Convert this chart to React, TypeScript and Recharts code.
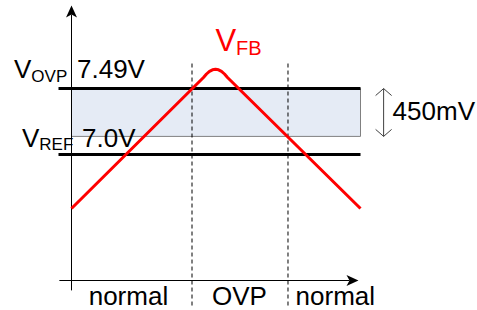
import React from 'react';
import { ComposedChart, Line, XAxis, YAxis, ReferenceLine, ReferenceArea, ReferenceDot } from 'recharts';

const FONT = "Arial, 'Liberation Sans', Helvetica, sans-serif";

// V_FB waveform (arbitrary time / level units)
const vfbTime = [0, 45.67, 46.71, 47.75, 48.79, 49.83, 50.87, 51.9, 52.94, 53.98, 100];
const vfbLevel = [26.2, 73.82, 75.09, 76.07, 76.62, 76.8, 76.62, 76.07, 75.09, 73.82, 26.2];

// threshold levels
const ovpLevel = 69.8;
const refLevel = 45.8;
const bandLow = 52.4;
const hystLabel = '450mV';
const ovpText = '7.49V';
const refText = '7.0V';

// region boundaries and labels
const boundaries = [41.7, 74.91];
const regionCenters = [19.7, 58.1, 91.3];
const regionLabels = ['normal', 'OVP', 'normal'];

const data = vfbTime.map((t, i) => ({ t, v: vfbLevel[i] }));

const ArrowShape = (props: any) => {
  const { x1, y1, x2, y2 } = props;
  const dx = x2 - x1;
  const dy = y2 - y1;
  const len = Math.hypot(dx, dy) || 1;
  const ux = dx / len;
  const uy = dy / len;
  const nx = -uy;
  const ny = ux;
  const L = 12;
  const W = 5.5;
  const N = 3;
  const bx = x2 - ux * L;
  const by = y2 - uy * L;
  const mx = x2 - ux * (L - N);
  const my = y2 - uy * (L - N);
  return (
    <g>
      <line x1={x1} y1={y1} x2={mx} y2={my} stroke="#000" strokeWidth={1} />
      <polygon
        points={`${x2},${y2} ${bx + nx * W},${by + ny * W} ${mx},${my} ${bx - nx * W},${by - ny * W}`}
        fill="#000"
      />
    </g>
  );
};

const DoubleArrowShape = (props: any) => {
  const { x1, y1, x2, y2 } = props;
  const top = Math.min(y1, y2);
  const bot = Math.max(y1, y2);
  const x = x1;
  const w = 8;
  const h = 7;
  const c = '#404040';
  return (
    <g fill="none" stroke={c} strokeWidth={1}>
      <line x1={x} y1={top} x2={x} y2={bot} />
      <polyline points={`${x - w},${top + h} ${x},${top} ${x + w},${top + h}`} />
      <polyline points={`${x - w},${bot - h} ${x},${bot} ${x + w},${bot - h}`} />
    </g>
  );
};

const makeVLabel = (sub: string, value: string, vOffX: number, vOffY: number, valOffX: number, subDy: number) =>
  (props: any) => {
    const vb = props.viewBox || { x: 0, y: 0 };
    return (
      <text x={vb.x + vOffX} y={vb.y + vOffY} fontFamily={FONT} fontSize={26} fill="#000">
        <tspan>V</tspan>
        <tspan fontSize={17} dy={subDy}>{sub}</tspan>
        <tspan x={vb.x + valOffX} dy={-subDy}>{value}</tspan>
      </text>
    );
  };

const ovpLabel = makeVLabel('OVP', ovpText, -44.5, -11, 18.5, 4.5);
const refLabel = makeVLabel('REF', refText, -36.5, -8, 23.5, 3.5);

const vfbLabel = (props: any) => {
  const vb = props.viewBox || { x: 0, y: 0 };
  return (
    <text x={vb.x} y={vb.y} fontFamily={FONT} fontSize={31} fill="#FF0000">
      <tspan>V</tspan>
      <tspan fontSize={20} dy={4}>FB</tspan>
    </text>
  );
};

const hystLabelFn = (props: any) => {
  const vb = props.viewBox || { x: 0, y: 0, height: 0 };
  return (
    <text x={vb.x + 9} y={vb.y + vb.height / 2 + 8} fontFamily={FONT} fontSize={26} fill="#000">
      {hystLabel}
    </text>
  );
};

export default function App() {
  return (
    <div style={{ position: 'absolute', left: 0, top: 0, width: 477, height: 310, background: '#fff' }}>
      <ComposedChart
        width={477}
        height={310}
        data={data}
        margin={{ top: 5.5, right: 116.5, bottom: 0, left: 71.5 }}
      >
        <XAxis
          dataKey="t"
          type="number"
          domain={[0, 100]}
          ticks={regionCenters}
          interval={0}
          tickFormatter={(v: number, i: number) => regionLabels[i]}
          axisLine={false}
          tickLine={false}
          tickMargin={0}
          height={29.5}
          tick={{ fontSize: 26, fill: '#000', fontFamily: FONT }}
        />
        <YAxis type="number" domain={[0, 100]} hide />
        <ReferenceArea
          x1={0}
          x2={100}
          y1={bandLow}
          y2={ovpLevel}
          fill="#E5EBF5"
          fillOpacity={1}
          stroke="#808080"
          strokeWidth={1}
          ifOverflow="visible"
        />
        {boundaries.map((b, i) => (
          <ReferenceLine
            key={`b${i}`}
            segment={[{ x: b, y: -9.1 }, { x: b, y: 78.9 }]}
            stroke="#000"
            strokeWidth={1}
            strokeDasharray="4 3"
            ifOverflow="visible"
          />
        ))}
        <ReferenceLine
          segment={[{ x: -4.5, y: ovpLevel }, { x: 100, y: ovpLevel }]}
          stroke="#000"
          strokeWidth={3}
          ifOverflow="visible"
          label={ovpLabel}
        />
        <ReferenceLine
          segment={[{ x: -4.5, y: refLevel }, { x: 100, y: refLevel }]}
          stroke="#000"
          strokeWidth={3}
          ifOverflow="visible"
          label={refLabel}
        />
        <ReferenceLine
          segment={[{ x: 108, y: ovpLevel }, { x: 108, y: bandLow }]}
          ifOverflow="visible"
          shape={DoubleArrowShape}
          label={hystLabelFn}
        />
        <ReferenceLine
          segment={[{ x: 0, y: -3.6 }, { x: 0, y: 100 }]}
          ifOverflow="visible"
          shape={ArrowShape}
        />
        <ReferenceLine
          segment={[{ x: -4.2, y: 0 }, { x: 99.3, y: 0 }]}
          ifOverflow="visible"
          shape={ArrowShape}
        />
        <Line
          dataKey="v"
          type="linear"
          stroke="#FF0000"
          strokeWidth={3}
          strokeLinejoin="round"
          dot={false}
          activeDot={false}
          isAnimationActive={false}
        />
        <ReferenceDot x={49.8} y={83.6} r={0} fill="none" stroke="none" ifOverflow="visible" label={vfbLabel} />
      </ComposedChart>
    </div>
  );
}
